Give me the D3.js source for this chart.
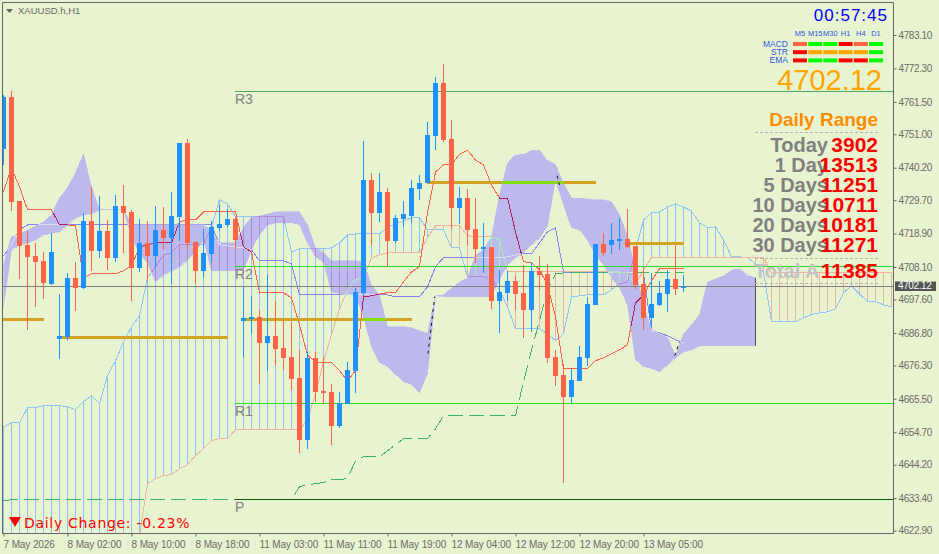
<!DOCTYPE html>
<html>
<head>
<meta charset="utf-8">
<title>XAUUSD.h,H1</title>
<script src="https://cdn.jsdelivr.net/npm/d3@7/dist/d3.min.js"></script>
<style>
  html, body { margin: 0; background: #e8f4d0; }
  svg { display: block; font-family: "Liberation Sans", Arial, sans-serif; }
</style>
</head>
<body>
<svg id="chart" width="939" height="554"></svg>
<script>
// candles, one per H1 bar
const open = [4746.3,4763.1,4729.5,4715.3,4711.7,4710.1,4702.7,4684.9,4685.6,4704.6,4701.4,4723.0,4713.3,4719.8,4711.1,4727.9,4725.9,4707.8,4715.9,4711.7,4720.1,4717.5,4724.3,4748.2,4716.2,4706.9,4712.4,4720.8,4721.7,4723.7,4690.7,4691.4,4692.0,4683.6,4685.9,4682.0,4679.1,4672.3,4652.3,4678.8,4668.1,4667.8,4656.8,4663.9,4674.6,4699.8,4736.3,4725.6,4732.4,4716.6,4723.7,4724.6,4733.4,4735.3,4750.5,4767.6,4749.5,4727.2,4730.4,4720.4,4714.0,4714.6,4697.2,4699.8,4703.6,4699.8,4694.3,4706.9,4705.9,4679.1,4673.3,4666.2,4671.3,4678.8,4695.9,4715.6,4715.3,4716.6,4717.2,4714.9,4702.7,4691.7,4695.9,4699.4,4704.3,4701.4];
const high = [4763.7,4765.0,4729.5,4719.8,4715.9,4713.0,4719.1,4699.4,4706.2,4709.8,4725.6,4734.0,4731.1,4723.3,4731.4,4734.6,4726.6,4723.7,4723.0,4727.9,4727.5,4732.4,4748.2,4749.5,4716.2,4720.4,4723.0,4728.2,4726.9,4724.3,4701.7,4698.8,4694.3,4705.6,4697.2,4690.7,4690.4,4681.3,4680.7,4680.7,4679.1,4670.4,4667.8,4677.5,4701.4,4748.9,4738.5,4738.5,4733.7,4725.0,4729.5,4736.3,4737.9,4755.0,4769.5,4773.7,4755.6,4734.0,4733.4,4730.4,4722.4,4714.6,4707.2,4706.9,4705.3,4708.8,4709.8,4711.7,4709.1,4681.3,4676.8,4675.2,4682.6,4698.5,4715.6,4719.1,4722.4,4724.0,4726.9,4714.9,4707.8,4706.2,4703.6,4707.2,4715.3,4705.6];
const low = [4741.1,4726.2,4704.3,4687.8,4695.2,4697.8,4702.3,4678.4,4684.6,4693.9,4701.1,4706.9,4711.1,4707.2,4709.8,4712.7,4697.2,4706.5,4703.6,4707.8,4713.7,4702.7,4716.6,4713.7,4702.7,4704.6,4709.5,4719.8,4721.1,4713.7,4679.1,4686.5,4670.4,4674.6,4676.5,4674.9,4668.4,4648.1,4649.4,4664.6,4663.9,4650.7,4656.2,4663.9,4667.5,4698.8,4715.3,4722.7,4708.2,4715.9,4721.1,4722.4,4729.8,4735.3,4746.0,4748.5,4720.4,4722.0,4715.3,4709.5,4706.2,4694.6,4686.8,4697.2,4694.3,4685.2,4687.2,4700.7,4677.2,4669.7,4638.4,4664.2,4671.3,4676.2,4695.9,4711.7,4712.4,4713.7,4714.3,4701.1,4687.8,4688.8,4695.6,4693.6,4699.1,4700.1];
const close = [4763.1,4729.2,4714.9,4711.4,4709.8,4703.0,4713.0,4685.9,4704.6,4701.4,4723.0,4713.3,4719.8,4711.1,4727.9,4725.6,4707.8,4715.9,4711.7,4720.1,4717.5,4724.6,4748.2,4715.9,4706.9,4712.7,4721.1,4722.0,4723.7,4716.9,4691.7,4692.0,4683.6,4685.9,4681.7,4678.8,4672.0,4652.3,4678.8,4667.8,4667.5,4656.8,4664.2,4674.9,4700.1,4736.3,4725.6,4732.4,4716.6,4724.0,4725.3,4733.7,4735.3,4750.8,4767.6,4749.2,4727.2,4730.4,4720.1,4714.0,4714.6,4697.2,4700.1,4703.6,4699.4,4694.3,4706.9,4705.6,4678.8,4673.0,4666.2,4671.7,4679.1,4696.2,4715.6,4712.7,4716.9,4717.2,4714.6,4702.3,4691.7,4696.2,4699.8,4704.3,4701.1,4702.12];

// ichimoku style lines
const tenkan = [4732.4,4740.1,4734.0,4726.6,4726.6,4726.6,4726.6,4721.7,4721.7,4721.4,4704.6,4705.9,4705.9,4705.9,4705.9,4706.9,4708.5,4714.6,4715.3,4715.9,4715.9,4715.9,4722.7,4723.3,4723.3,4725.9,4725.9,4725.9,4725.9,4725.9,4714.6,4713.0,4699.8,4699.8,4699.8,4699.8,4698.1,4689.4,4679.7,4677.2,4677.2,4677.2,4674.6,4671.3,4674.6,4698.5,4698.8,4699.4,4699.8,4699.8,4703.3,4706.5,4708.2,4725.6,4738.8,4741.1,4741.1,4744.6,4745.9,4742.7,4741.1,4734.6,4730.4,4730.4,4719.5,4709.8,4709.5,4707.2,4702.3,4692.0,4675.2,4675.2,4675.2,4675.2,4677.8,4678.8,4680.1,4681.3,4683.0,4696.5,4699.1,4703.6,4707.5,4707.5,4707.5,4707.5];
const kijun = [4711.7,4715.3,4720.1,4721.7,4721.7,4721.7,4721.7,4721.7,4721.7,4721.7,4721.7,4721.7,4721.7,4721.7,4721.7,4721.7,4721.7,4721.7,4721.7,4721.7,4721.7,4721.7,4721.7,4721.7,4721.7,4721.7,4721.7,4715.3,4714.9,4714.6,4714.3,4713.7,4710.1,4710.1,4710.1,4710.1,4709.1,4699.1,4699.1,4699.1,4699.1,4699.1,4699.1,4699.1,4699.1,4699.1,4699.1,4699.1,4699.1,4698.5,4698.5,4698.5,4698.5,4701.7,4708.2,4711.1,4711.1,4711.1,4711.1,4711.1,4711.1,4711.1,4711.1,4711.4,4712.0,4712.4,4712.4,4715.9,4719.5,4720.8,4706.5,4706.2,4706.2,4706.2,4706.2,4706.2,4706.2,4706.2,4706.2,4706.2,4706.2,4687.5,4686.8,4685.9,4684.6,4683.6];
const spanA = [4656.5,4657.8,4657.8,4662.6,4662.6,4663.3,4663.3,4663.3,4662.9,4662.0,4664.6,4666.5,4663.9,4673.0,4677.8,4683.9,4688.8,4692.3,4704.6,4708.2,4712.0,4712.7,4715.3,4715.3,4715.3,4715.3,4721.1,4729.8,4728.5,4724.3,4724.3,4724.3,4724.3,4724.3,4724.3,4724.3,4713.0,4714.0,4714.0,4714.0,4714.0,4714.3,4715.9,4718.5,4718.8,4718.8,4718.8,4718.8,4721.1,4722.0,4723.0,4724.0,4724.0,4720.1,4720.1,4720.1,4714.3,4714.3,4704.9,4704.9,4704.9,4704.3,4700.7,4695.2,4688.1,4688.1,4688.1,4688.1,4686.5,4684.3,4686.5,4698.5,4698.8,4699.1,4699.1,4699.1,4700.7,4702.7,4703.3,4713.7,4723.3,4725.6,4725.9,4727.5,4728.5,4727.5,4726.2,4722.4,4720.8,4721.1,4716.9,4711.4,4711.4,4711.1,4709.1,4706.5,4690.4,4690.4,4690.4,4690.4,4691.7,4692.7,4693.3,4693.6,4694.6,4699.8,4702.0,4699.4,4696.9,4696.9,4695.9,4695.2];
const spanB = [4613.5,4613.5,4613.5,4613.5,4613.5,4613.5,4613.5,4613.5,4613.5,4613.5,4613.5,4613.5,4613.5,4613.5,4613.5,4613.5,4613.5,4621.3,4638.1,4639.7,4640.7,4641.0,4642.9,4644.2,4647.1,4649.4,4652.0,4652.6,4652.6,4655.5,4655.5,4655.5,4655.5,4655.5,4655.5,4655.5,4655.5,4655.5,4658.7,4667.1,4677.5,4686.2,4694.6,4700.7,4704.0,4704.6,4711.1,4712.0,4712.7,4712.7,4712.7,4712.7,4712.7,4717.5,4721.4,4721.4,4721.4,4721.4,4718.2,4717.9,4717.9,4717.9,4716.9,4706.5,4706.5,4706.5,4706.5,4706.5,4706.5,4706.5,4706.5,4706.5,4706.5,4706.5,4706.5,4706.5,4706.5,4706.5,4706.2,4702.3,4707.2,4711.1,4711.1,4711.1,4711.1,4711.1,4711.1,4711.1,4711.1,4711.1,4711.1,4711.1,4711.1,4711.1,4711.1,4711.1,4706.2,4706.2,4706.2,4706.2,4706.2,4706.2,4706.2,4706.2,4706.2,4706.2,4706.2,4706.2,4706.2,4706.2,4706.2,4706.2];
const lagging = [4632.6,4632.9,4632.9,4632.9,4632.9,4632.9,4632.9,4632.9,4632.9,4632.9,4632.9,4632.9,4632.9,4632.9,4632.9,4632.9,4632.9,4632.9,4632.9,4632.9,4632.9,4632.9,4632.9,4632.9,4632.9,4632.9,4632.9,4632.9,4632.9,4632.9,4632.9,4632.9,4632.9,4632.9,4632.9,4632.9,4632.9,4637.1,4637.7,4638.1,4638.4,4639.4,4639.4,4639.7,4645.5,4646.8,4646.8,4646.8,4648.7,4650.7,4652.6,4652.6,4652.6,4652.6,4655.8,4660.0,4660.0,4660.0,4660.0,4660.0,4660.0,4660.0,4660.0,4660.0,4660.0,4671.0,4681.3,4690.7,4700.7,4705.9,4706.2,4706.2,4706.2,4706.2,4706.2,4706.2,4706.2,4706.2,4706.2,4706.2,4706.2,4706.2,4706.2,4706.2,4706.2,4706.2];

// lavender band
const bandTop = [4708.8,4717.9,4718.8,4720.1,4721.4,4722.7,4725.0,4730.4,4733.7,4738.5,4744.6,4734.0,4726.6,4726.6,4726.6,4726.6,4721.7,4721.7,4721.7,4721.7,4721.7,4721.7,4721.7,4721.7,4721.7,4721.7,4719.5,4715.9,4715.9,4715.9,4720.8,4724.3,4724.6,4725.3,4725.9,4725.9,4725.9,4725.9,4721.7,4714.3,4712.7,4710.1,4710.1,4710.1,4710.1,4709.8,4702.3,4699.1,4688.8,4688.8,4688.8,4688.4,4687.5,4686.5,4698.8,4699.1,4701.4,4703.3,4704.6,4712.0,4713.7,4717.9,4731.4,4741.8,4744.3,4744.6,4745.9,4745.9,4742.4,4741.1,4735.3,4730.4,4730.4,4730.1,4729.8,4729.8,4729.2,4725.0,4718.2,4707.2,4695.9,4687.8,4686.5,4685.2,4679.4,4686.5,4689.4,4692.7,4703.3,4704.3,4705.3,4707.2,4707.5,4705.3,4704.6];
const bandBottom = [4695.2,4713.7,4715.3,4715.9,4716.9,4718.5,4719.1,4719.5,4721.7,4724.0,4725.0,4725.3,4726.6,4726.6,4726.6,4726.6,4717.9,4712.4,4709.5,4703.3,4705.6,4706.9,4708.2,4710.4,4713.0,4716.9,4706.9,4706.9,4706.9,4706.9,4706.9,4713.7,4718.5,4721.7,4722.4,4722.4,4722.4,4721.7,4715.9,4711.4,4709.5,4700.1,4699.4,4699.1,4699.1,4692.0,4682.3,4677.2,4675.9,4673.3,4671.0,4670.0,4667.5,4673.6,4698.8,4698.5,4698.5,4698.5,4698.5,4698.5,4698.5,4698.5,4704.0,4708.8,4711.1,4712.7,4715.3,4717.5,4721.4,4736.3,4728.2,4720.8,4720.1,4716.9,4712.0,4708.8,4704.6,4701.4,4695.9,4678.1,4675.9,4675.2,4674.2,4676.5,4678.8,4680.7,4681.3,4682.6,4682.6,4682.6,4682.6,4682.6,4682.6,4682.6,4682.6];
const edgeBars = [[53.06, 53.9], [83.9, 84.5], [69.2, 69.5]];
const edgePrices = [[4680.1, 4698.5], [4679.4, 4683.9], [4737.6, 4734.6]];

// gold zones
const zonePrice = [4691.0, 4685.2, 4691.0, 4735.5, 4715.6];
const zoneFrom = [0, 7, 30, 53, 78];
const zoneTo = [5, 28, 51, 74, 85];

// pivots
const pivotNames = ["R3", "R2", "R1", "P"];
const pivotPrice = [4765.0, 4708.5, 4664.2, 4633.2];
const pivotColor = ["#4aa860", "#2bd92b", "#22e622", "#0b5a0b"];
const pivotFrom = 29;
const lastPrice = 4702.12;

// axes
const priceTicks = [4783.10,4772.30,4761.50,4751.00,4740.20,4729.70,4718.90,4708.10,4697.60,4686.80,4676.30,4665.50,4654.70,4644.20,4633.40,4622.90];
const timeBars = [0,8,16,24,32,40,48,56,64,72,80];
const timeLabels = ["7 May 2026","8 May 02:00","8 May 10:00","8 May 18:00","11 May 03:00","11 May 11:00","11 May 19:00","12 May 04:00","12 May 12:00","12 May 20:00","13 May 05:00"];

// signal panel
const frames = ["M5","M15","M30","H1","H4","D1"];
const signalNames = ["MACD","STR","EMA"];
const macdRow = ["#ff6347","#00ff00","#00ff00","#ff0000","#ff6347","#00ff00"];
const strRow = ["#ff0000","#ffa500","#ffa500","#ffa500","#ffa500","#00ff00"];
const emaRow = ["#ff0000","#00ff00","#00ff00","#ff0000","#ff0000","#00ff00"];

// daily range panel
const rangeNames = ["Today","1 Day","5 Days","10 Days","20 Days","30 Days"];
const rangeValues = ["3902","13513","11251","10711","10181","11271"];

const svg = d3.select("#chart");
const x = d3.scaleLinear().domain([0, 111]).range([3.5, 891.5]);
const y = d3.scaleLinear().domain([4783.10, 4622.90]).range([35, 530.6]);

const defs = svg.append("defs");
defs.append("clipPath").attr("id", "plot").append("rect")
  .attr("x", 3).attr("y", 3).attr("width", 890).attr("height", 530);

const band = d3.area().x((d, i) => x(i)).y0(d => y(d[1])).y1(d => y(d[0]));
const bandData = d3.zip(bandTop, bandBottom);
defs.append("clipPath").attr("id", "bandClip").append("path").attr("d", band(bandData));

const line = d3.line().x((d, i) => x(i)).y(d => y(d));

// the platform inverts colours where lines cross the band, so this runs twice
function drawIndicators(g, c) {
  g.attr("shape-rendering", "crispEdges");
  g.selectAll(".hatch").data(spanA).join("line")
    .attr("x1", (d, i) => x(i)).attr("x2", (d, i) => x(i))
    .attr("y1", d => y(d)).attr("y2", (d, i) => y(spanB[i]))
    .attr("stroke", (d, i) => d >= spanB[i] ? c.a : c.b);

  const series = [[spanA, c.a], [spanB, c.b], [kijun, c.kijun], [tenkan, c.tenkan]];
  series.forEach(s => {
    g.append("path").attr("d", line(s[0])).attr("fill", "none").attr("stroke", s[1]);
  });
  g.append("path").attr("d", line(lagging)).attr("fill", "none")
    .attr("stroke", c.lag).attr("stroke-dasharray", "15 6");

  g.selectAll(".zone").data(zonePrice).join("line")
    .attr("x1", (d, i) => x(zoneFrom[i]) - 0.5).attr("x2", (d, i) => x(zoneTo[i]) + 0.5)
    .attr("y1", d => y(d)).attr("y2", d => y(d))
    .attr("stroke", c.zone).attr("stroke-width", 3);
}

const plot = svg.append("g").attr("clip-path", "url(#plot)");
drawIndicators(plot.append("g"), {
  a: "#90c4f8", b: "#eeb4a0", kijun: "#8484f4", tenkan: "#ff6347", lag: "#3cb371", zone: "#d4a224"
});

plot.append("path").attr("d", band(bandData)).attr("shape-rendering", "crispEdges")
  .attr("fill", "#bcbaed").attr("stroke", "#bcbaed").attr("stroke-width", 0.6);
plot.append("line")
  .attr("x1", x(94)).attr("x2", x(94))
  .attr("y1", y(bandTop[94])).attr("y2", y(bandBottom[94]))
  .attr("stroke", "#555");

drawIndicators(plot.append("g").attr("clip-path", "url(#bandClip)"), {
  a: "#b48ad8", b: "#aee8c2", kijun: "#dcdcf2", tenkan: "#b01c60", lag: "#aee8c2", zone: "#80e000"
});

plot.selectAll(".edge").data(edgeBars).join("line")
  .attr("x1", d => x(d[0])).attr("x2", d => x(d[1]))
  .attr("y1", (d, i) => y(edgePrices[i][0])).attr("y2", (d, i) => y(edgePrices[i][1]))
  .attr("stroke", "#111").attr("stroke-dasharray", "3 4");

// pivot lines and the bid line
plot.selectAll(".pivot").data(pivotPrice).join("line")
  .attr("x1", x(pivotFrom) - 0.5).attr("x2", 893)
  .attr("y1", d => Math.round(y(d)) + 0.5).attr("y2", d => Math.round(y(d)) + 0.5)
  .attr("stroke", (d, i) => pivotColor[i]);
plot.append("line").attr("x1", 3).attr("x2", 893)
  .attr("y1", Math.round(y(lastPrice)) + 0.5).attr("y2", Math.round(y(lastPrice)) + 0.5)
  .attr("stroke", "#808080");

svg.selectAll(".pivotName").data(pivotNames).join("text")
  .attr("x", x(pivotFrom) - 0.5).attr("y", (d, i) => y(pivotPrice[i]) + 13.5)
  .attr("font-size", 14).attr("fill", "#808080").text(d => d);

// candles
const candles = plot.append("g").attr("shape-rendering", "crispEdges");
candles.selectAll(".wick").data(close).join("line")
  .attr("x1", (d, i) => x(i)).attr("x2", (d, i) => x(i))
  .attr("y1", (d, i) => y(high[i])).attr("y2", (d, i) => y(low[i]))
  .attr("stroke", (d, i) => d >= open[i] ? "#1e90ff" : "#ff6347");
candles.selectAll(".body").data(close).join("rect")
  .attr("x", (d, i) => x(i) - 2.5).attr("width", 5)
  .attr("y", (d, i) => y(Math.max(d, open[i])))
  .attr("height", (d, i) => Math.max(2, Math.abs(y(d) - y(open[i]))))
  .attr("fill", (d, i) => d >= open[i] ? "#1e90ff" : "#ff6347");

// frame and axes
svg.append("path").attr("d", "M2.5,2.5H893.5V533.5H2.5Z").attr("fill", "none").attr("stroke", "#666");

const yAxis = svg.append("g").attr("transform", "translate(893.5,0)")
  .call(d3.axisRight(y).tickValues(priceTicks).tickSize(3).tickPadding(2).tickFormat(d => d.toFixed(2)));
const xAxis = svg.append("g").attr("transform", "translate(0,533.5)")
  .call(d3.axisBottom(x).tickValues(timeBars).tickSize(3).tickPadding(4).tickFormat((d, i) => timeLabels[i]));
[yAxis, xAxis].forEach(a => {
  a.select(".domain").remove();
  a.selectAll("line").attr("stroke", "#666");
  a.selectAll("text").attr("fill", "#6a6a6a")
    .attr("font-family", '"Liberation Sans", Arial, sans-serif').attr("font-size", 10);
});
yAxis.selectAll("text").attr("letter-spacing", -0.4);
xAxis.selectAll("text").attr("text-anchor", "start").attr("dx", -0.5).attr("letter-spacing", -0.1);

svg.append("rect").attr("x", 895).attr("y", 281.5).attr("width", 41).attr("height", 9.5).attr("fill", "#555");
svg.append("text").attr("x", 898).attr("y", y(lastPrice) + 3.6)
  .attr("font-size", 10).attr("letter-spacing", -0.4).attr("fill", "#fff").text(lastPrice.toFixed(2));

// top left title
svg.append("path").attr("d", "M6,9H13L9.5,13Z").attr("fill", "#666");
svg.append("text").attr("x", 18).attr("y", 14).attr("font-size", 9.5).attr("fill", "#666").text("XAUUSD.h,H1");

// clock and signal panel
svg.append("text").attr("x", 888).attr("y", 21).attr("text-anchor", "end")
  .attr("font-size", 17).attr("letter-spacing", 1).attr("fill", "#0000ff").text("00:57:45");

const frameX = d3.scaleBand().domain(frames).range([793, 883]).paddingInner(0.08);
svg.selectAll(".frame").data(frames).join("text")
  .attr("x", d => frameX(d) + frameX.bandwidth() / 2).attr("y", 36).attr("text-anchor", "middle")
  .attr("font-size", 7.5).attr("fill", "#2f55e0").text(d => d);

const signalRows = [macdRow, strRow, emaRow];
signalRows.forEach((row, r) => {
  svg.selectAll(".cell" + r).data(row).join("rect")
    .attr("x", (d, i) => frameX(frames[i])).attr("width", frameX.bandwidth())
    .attr("y", 42 + r * 8.2).attr("height", 4).attr("fill", d => d);
  svg.append("text").attr("x", 788).attr("y", 46.5 + r * 8.2).attr("text-anchor", "end")
    .attr("font-size", 8.5).attr("fill", "#2f55e0").text(signalNames[r]);
});

svg.append("text").attr("x", 882).attr("y", 90).attr("text-anchor", "end")
  .attr("font-size", 29).attr("fill", "#ffa500").text(lastPrice.toFixed(2));

// daily range panel
svg.append("text").attr("x", 878).attr("y", 126).attr("text-anchor", "end")
  .attr("font-size", 19).attr("font-weight", "bold").attr("fill", "#ff8c00").text("Daily Range");

[132, 258, 283].forEach(v => {
  svg.append("line").attr("x1", 755).attr("x2", 878).attr("y1", v + 0.5).attr("y2", v + 0.5)
    .attr("stroke", "#b4b4b4").attr("stroke-dasharray", "3 2");
});

svg.selectAll(".rangeName").data(rangeNames).join("text")
  .attr("x", 828).attr("y", (d, i) => 152 + i * 20).attr("text-anchor", "end")
  .attr("font-size", 20).attr("font-weight", "bold").attr("fill", "#808080").text(d => d);
svg.selectAll(".rangeValue").data(rangeValues).join("text")
  .attr("x", 878).attr("y", (d, i) => 152 + i * 20).attr("text-anchor", "end")
  .attr("font-size", 21).attr("font-weight", "bold").attr("fill", "#ff0000").text(d => d);

svg.append("text").attr("x", 754).attr("y", 278)
  .attr("font-size", 20).attr("font-weight", "bold").attr("fill", "#c4c4c4").text("Total A");
svg.append("text").attr("x", 878).attr("y", 278).attr("text-anchor", "end")
  .attr("font-size", 21).attr("font-weight", "bold").attr("fill", "#ff0000").text("11385");

// daily change
svg.append("path").attr("d", "M9,517H21L15,527Z").attr("fill", "#ff0000");
svg.append("text").attr("x", 24).attr("y", 528)
  .attr("font-family", '"DejaVu Sans", sans-serif').attr("font-size", 14).attr("letter-spacing", 0.7).attr("fill", "#ff0000")
  .text("Daily Change: -0.23%");
</script>
</body>
</html>
